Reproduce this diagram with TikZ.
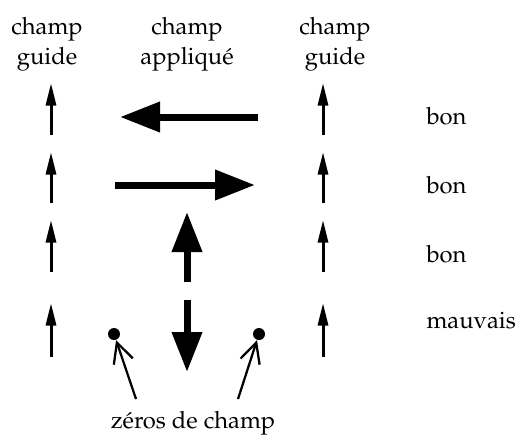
\documentclass[tikz,border=0pt]{standalone}
\usepackage[T1]{fontenc}
\usepackage{mathpazo}
\usepackage{tikz}
\usetikzlibrary{positioning,arrows.meta}

\begin{document}
\begin{tikzpicture}[
    x=0.4pt, y=-0.4pt,
    lbl/.style={font=\fontsize{9.5}{12}\selectfont, align=center, inner sep=0pt},
    guidearr/.style={-{Triangle[length=9pt, width=4pt]}, line width=1.2pt},
    fieldarr/.style={-{Triangle[length=16pt, width=11.6pt]}, line width=2.8pt},
    ptr/.style={-{Straight Barb[length=8pt, width=8pt]}, line width=0.9pt},
    zero/.style={circle, fill, inner sep=0pt, minimum size=4.8pt}
  ]
    \useasboundingbox (0,0) rectangle (518,435);

    % column titles
    \node[lbl] (guideL) at (47,44) {champ\\guide};
    \node[lbl] (applied) at (187,44) {champ\\appliqué};
    \node[lbl] (guideR) at (335,44) {champ\\guide};

    % guide field on both sides
    \foreach \yb/\yt in {135/83, 203/152, 272/220, 357/303} {
      \draw[guidearr] (51,\yb) -- (51,\yt);
      \draw[guidearr] (323,\yb) -- (323,\yt);
    }

    % applied field
    \draw[fieldarr] (258,117) -- (120,117);
    \draw[fieldarr] (115,185) -- (255,185);
    \draw[fieldarr] (187,282) -- (187,212);
    \draw[fieldarr] (187,300) -- (187,372);

    % verdicts
    \node[lbl, anchor=base west] (v1) at (426,124) {bon};
    \node[lbl, anchor=base west] (v2) at (426,193) {bon};
    \node[lbl, anchor=base west] (v3) at (426,262) {bon};
    \node[lbl, anchor=base west] (v4) at (426,328) {mauvais};

    % field zeros
    \node[zero] (zl) at (114,334) {};
    \node[zero] (zr) at (259,334) {};
    \node[lbl, anchor=base] (zeros) at (193,428) {zéros de champ};
    \coordinate (tl) at (136,399);
    \coordinate (tr) at (238,399);
    \draw[ptr] (tl) -- (zl);
    \draw[ptr] (tr) -- (zr);
\end{tikzpicture}
\end{document}
